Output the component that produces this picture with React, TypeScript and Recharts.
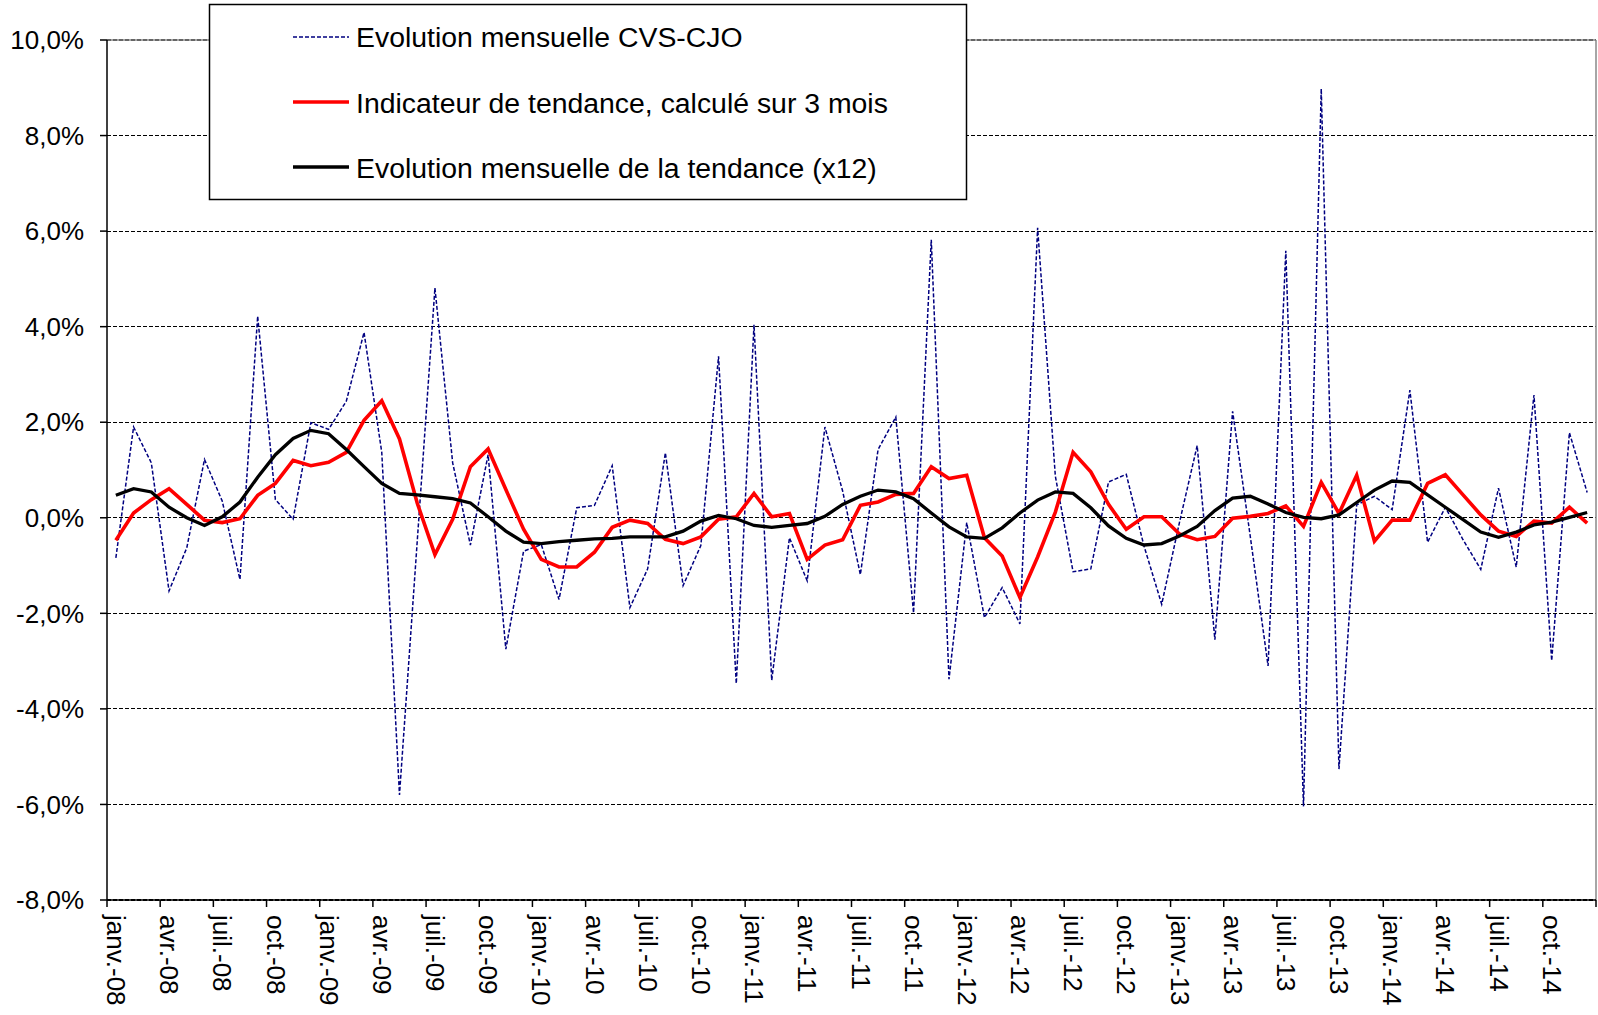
import React from 'react';
import { LineChart, Line, XAxis, YAxis, CartesianGrid, ReferenceLine } from 'recharts';

const MONTHS = ['janv.', 'févr.', 'mars', 'avr.', 'mai', 'juin', 'juil.', 'août', 'sept.', 'oct.', 'nov.', 'déc.'];
const YEARS = ['08', '09', '10', '11', '12', '13', '14'];
const categories = YEARS.flatMap((y) => MONTHS.map((m) => `${m}-${y}`));
const tickLabels = categories.filter((_, i) => i % 3 === 0);

const SERIES_NAMES = [
  'Evolution mensuelle CVS-CJO',
  'Indicateur de tendance, calculé sur 3 mois',
  'Evolution mensuelle de la tendance (x12)',
];

// Evolution mensuelle CVS-CJO (%)
const cvs = [
  -0.84, 1.9, 1.15, -1.53, -0.63, 1.22, 0.35, -1.29, 4.22, 0.38, -0.03, 1.99,
  1.85, 2.44, 3.88, 1.37, -5.8, -0.5, 4.81, 1.15, -0.57, 1.32, -2.75, -0.7,
  -0.56, -1.71, 0.21, 0.26, 1.09, -1.88, -1.07, 1.36, -1.42, -0.58, 3.38, -3.47,
  4.04, -3.4, -0.42, -1.32, 1.9, 0.56, -1.19, 1.43, 2.11, -1.99, 5.82, -3.38,
  -0.1, -2.09, -1.46, -2.22, 6.07, 0.87, -1.13, -1.07, 0.75, 0.91, -0.59, -1.81,
  -0.1, 1.51, -2.55, 2.23, -0.4, -3.1, 5.59, -6.04, 8.98, -5.26, 0.27, 0.45,
  0.17, 2.67, -0.51, 0.22, -0.46, -1.08, 0.62, -1.03, 2.57, -2.99, 1.78, 0.53,
];

// Indicateur de tendance, calculé sur 3 mois (%)
const indicateur = [
  -0.47, 0.1, 0.38, 0.61, 0.28, -0.05, -0.1, -0.02, 0.47, 0.72, 1.2, 1.09,
  1.16, 1.37, 2.04, 2.45, 1.65, 0.31, -0.77, -0.03, 1.07, 1.44, 0.59, -0.24,
  -0.87, -1.03, -1.03, -0.72, -0.2, -0.05, -0.12, -0.45, -0.54, -0.4, -0.03, 0.02,
  0.51, 0.02, 0.09, -0.87, -0.57, -0.46, 0.26, 0.33, 0.49, 0.51, 1.07, 0.82,
  0.89, -0.42, -0.8, -1.67, -0.82, 0.12, 1.37, 0.96, 0.28, -0.24, 0.02, 0.02,
  -0.34, -0.46, -0.39, -0.01, 0.03, 0.09, 0.25, -0.18, 0.74, 0.09, 0.89, -0.49,
  -0.05, -0.05, 0.72, 0.9, 0.48, 0.06, -0.28, -0.39, -0.07, -0.11, 0.22, -0.11,
];

// Evolution mensuelle de la tendance (x12) (%)
const tendance = [
  0.47, 0.61, 0.54, 0.22, 0.0, -0.16, 0.02, 0.33, 0.85, 1.32, 1.66, 1.83,
  1.76, 1.43, 1.07, 0.72, 0.51, 0.48, 0.44, 0.4, 0.31, 0.02, -0.28, -0.51,
  -0.54, -0.5, -0.47, -0.44, -0.43, -0.4, -0.4, -0.4, -0.28, -0.07, 0.05, -0.02,
  -0.16, -0.2, -0.16, -0.12, 0.03, 0.28, 0.45, 0.58, 0.54, 0.4, 0.1, -0.19,
  -0.4, -0.43, -0.21, 0.1, 0.37, 0.54, 0.51, 0.21, -0.17, -0.43, -0.57, -0.54,
  -0.38, -0.18, 0.15, 0.41, 0.45, 0.29, 0.11, 0.01, -0.02, 0.06, 0.32, 0.58,
  0.77, 0.74, 0.48, 0.22, -0.04, -0.3, -0.41, -0.3, -0.15, -0.09, 0.01, 0.11,
];

const yTicks = [-8, -6, -4, -2, 0, 2, 4, 6, 8, 10];
const xTicks = Array.from({ length: 29 }, (_, k) => k * 3);

const data = categories.map((month, i) => ({
  x: i + 0.5,
  month,
  cvs: cvs[i],
  indicateur: indicateur[i],
  tendance: tendance[i],
}));

const FONT = '"Liberation Sans", Arial, Helvetica, sans-serif';

const XTick = (props: any) => {
  const { x, payload } = props;
  const idx = Math.round(payload.value / 3);
  const label = tickLabels[idx];
  if (!label) return null;
  const y0 = 915;
  return (
    <text
      x={x}
      y={y0}
      transform={`rotate(90, ${x}, ${y0})`}
      fontSize={26}
      fontFamily={FONT}
      fill="#000"
      textAnchor="start"
    >
      {label}
    </text>
  );
};

const fmtY = (v: number) => `${v.toFixed(1).replace('.', ',')}%`;

export default function App() {
  const W = 1598;
  const H = 1015;
  return (
    <div style={{ position: 'absolute', left: 0, top: 0, width: W, height: H, background: '#fff', fontFamily: FONT }}>
      <LineChart
        width={W}
        height={H}
        data={data}
        margin={{ top: 40, right: 2, bottom: 0, left: 0 }}
      >
        <CartesianGrid
          horizontal
          vertical={false}
          stroke="#000"
          strokeWidth={1.2}
          strokeDasharray="4 2"
          shapeRendering="crispEdges"
        />
        <XAxis
          dataKey="x"
          type="number"
          domain={[0, 84]}
          ticks={xTicks}
          interval={0}
          height={115}
          tickSize={7}
          tickLine={{ stroke: '#000', strokeWidth: 1.5 }}
          axisLine={{ stroke: '#000', strokeWidth: 1.5 }}
          tick={<XTick />}
          allowDataOverflow
        />
        <YAxis
          type="number"
          domain={[-8, 10]}
          ticks={yTicks}
          interval={0}
          width={107}
          tickSize={7}
          tickMargin={16}
          tickFormatter={fmtY}
          tickLine={{ stroke: '#000', strokeWidth: 1.5 }}
          axisLine={{ stroke: '#000', strokeWidth: 1.5 }}
          tick={{ fontSize: 26, fill: '#000', fontFamily: FONT }}
          allowDataOverflow
        />
        <ReferenceLine y={10} stroke="#888" strokeWidth={1.5} />
        <ReferenceLine x={84} stroke="#888" strokeWidth={1.5} />
        <Line
          type="linear"
          dataKey="cvs"
          name={SERIES_NAMES[0]}
          stroke="#000080"
          strokeWidth={1.5}
          strokeDasharray="4 2"
          dot={false}
          isAnimationActive={false}
        />
        <Line
          type="linear"
          dataKey="indicateur"
          name={SERIES_NAMES[1]}
          stroke="#ff0000"
          strokeWidth={3.6}
          dot={false}
          isAnimationActive={false}
        />
        <Line
          type="linear"
          dataKey="tendance"
          name={SERIES_NAMES[2]}
          stroke="#000"
          strokeWidth={3.3}
          dot={false}
          isAnimationActive={false}
        />
      </LineChart>
      <svg
        width={W}
        height={H}
        style={{ position: 'absolute', left: 0, top: 0, pointerEvents: 'none' }}
      >
        <rect x={209.5} y={4.5} width={757} height={195} fill="#fff" stroke="#000" strokeWidth={1.5} />
        <line x1={293} x2={349} y1={37} y2={37} stroke="#000080" strokeWidth={1.5} strokeDasharray="4 2" />
        <line x1={293} x2={349} y1={102} y2={102} stroke="#ff0000" strokeWidth={3.6} />
        <line x1={293} x2={349} y1={167} y2={167} stroke="#000" strokeWidth={3.3} />
        <text x={356} y={46.7} fontSize={28.4} fontFamily={FONT} fill="#000">{SERIES_NAMES[0]}</text>
        <text x={356} y={113} fontSize={28.4} fontFamily={FONT} fill="#000">{SERIES_NAMES[1]}</text>
        <text x={356} y={178.3} fontSize={28.4} fontFamily={FONT} fill="#000">{SERIES_NAMES[2]}</text>
      </svg>
    </div>
  );
}
